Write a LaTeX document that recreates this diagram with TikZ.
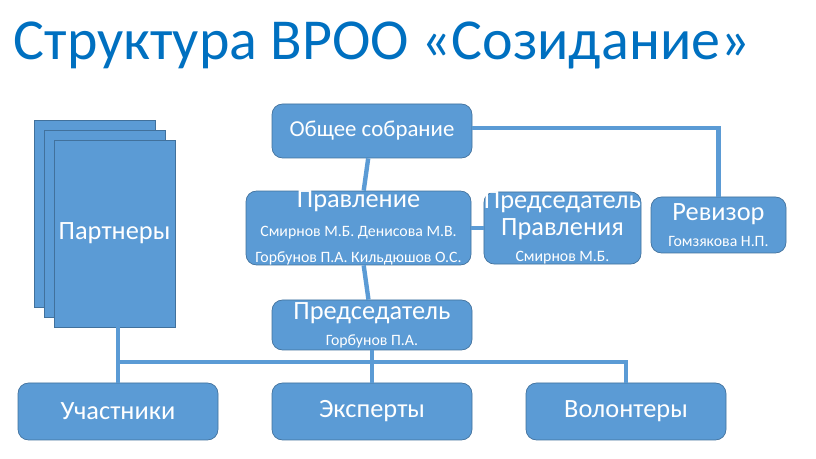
\documentclass[tikz,border=0pt]{standalone}
\usepackage{fontspec}
\setmainfont{Carlito}
\usetikzlibrary{calc}

\definecolor{boxblue}{RGB}{91,155,213}
\definecolor{edgeblue}{RGB}{65,113,156}
\definecolor{titleblue}{RGB}{0,112,192}

\begin{document}
\begin{tikzpicture}[x=0.02cm,y=-0.02cm]

		\tikzset{OrgBox/.style =
				{draw=edgeblue, fill=boxblue, rounded corners=6pt, text=white,
				 align=center, inner sep=0pt, font=\fontsize{13}{15}\selectfont}
		}
		\tikzset{SheetBox/.style =
				{draw=edgeblue, fill=boxblue, minimum width=121*0.02cm,
				 minimum height=187*0.02cm, inner sep=0pt}
		}
		\tikzset{LinkStyle/.style = {draw=boxblue, line width=2.5pt}}

		\useasboundingbox (0,0) rectangle (816,459);

		%title
		\node[text=titleblue, font=\fontsize{33}{38}\selectfont] (title) at (382,45) {Структура ВРОО «Созидание»};

		%partners
		\node[SheetBox] (sheet1) at (94.5,213.5) {};
		\node[SheetBox] (sheet2) at (104.5,223.5) {};
		\node[SheetBox, text=white, font=\fontsize{15}{18}\selectfont] (partners) at (114.5,233.5) {Партнеры};

		%boards
		\node[OrgBox, minimum width=200*0.02cm, minimum height=54*0.02cm] (assembly) at (372,131) {Общее собрание};
		\node[OrgBox, minimum width=225*0.02cm, minimum height=72*0.02cm] (board) at (358.5,228)
			{{\fontsize{15}{17}\selectfont Правление}\\[1pt]{\fontsize{9}{11}\selectfont Смирнов М.Б. Денисова М.В.}\\{\fontsize{9}{11}\selectfont Горбунов П.А. Кильдюшов О.С.}};
		\node[OrgBox, minimum width=149*0.02cm, minimum height=72*0.02cm] (boardchair) at (562.5,228)
			{{\fontsize{15}{17}\selectfont Председатель}\\{\fontsize{15}{17}\selectfont Правления}\\{\fontsize{9}{11}\selectfont Смирнов М.Б.}};
		\node[OrgBox, minimum width=135*0.02cm, minimum height=56*0.02cm] (auditor) at (718.5,225)
			{{\fontsize{15}{17}\selectfont Ревизор}\\{\fontsize{9}{11}\selectfont Гомзякова Н.П.}};
		\node[OrgBox, minimum width=200*0.02cm, minimum height=50*0.02cm] (chair) at (372,325)
			{{\fontsize{15}{17}\selectfont Председатель}\\{\fontsize{9}{11}\selectfont Горбунов П.А.}};

		%members
		\node[OrgBox, minimum width=200*0.02cm, minimum height=57*0.02cm, font=\fontsize{15}{18}\selectfont] (members) at (118,411.5) {Участники};
		\node[OrgBox, minimum width=200*0.02cm, minimum height=57*0.02cm, font=\fontsize{15}{18}\selectfont] (experts) at (372,411.5) {Эксперты};
		\node[OrgBox, minimum width=200*0.02cm, minimum height=57*0.02cm, font=\fontsize{15}{18}\selectfont] (volunteers) at (626,411.5) {Волонтеры};

		%links
		\coordinate (bus) at (372,362);
		\draw[LinkStyle] (assembly) -- (board);
		\draw[LinkStyle] (assembly.east |- 0,128) -| (auditor.north);
		\draw[LinkStyle] (board) -- (boardchair);
		\draw[LinkStyle] (board) -- (chair);
		\draw[LinkStyle] (chair) -- (experts);
		\draw[LinkStyle] (partners.south -| members.north) -- (members.north);
		\draw[LinkStyle] (members.north |- bus) -- (volunteers.north |- bus) -- (volunteers.north);
	\end{tikzpicture}
\end{document}
